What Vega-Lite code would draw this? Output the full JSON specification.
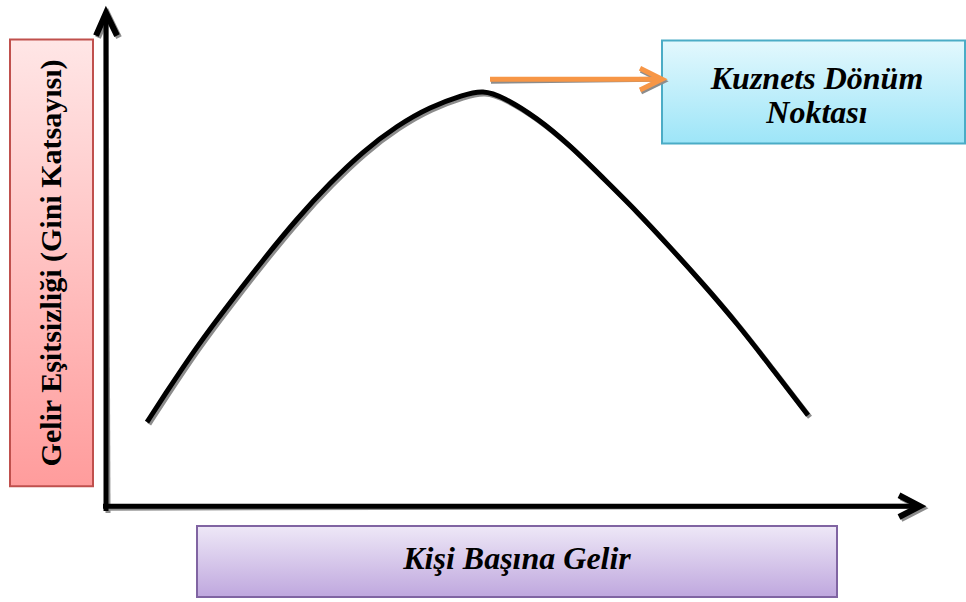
{
  "$schema": "https://vega.github.io/schema/vega-lite/v6.json",
  "width": 966,
  "height": 602,
  "autosize": {"type": "fit", "contains": "padding"},
  "padding": 0,
  "background": "white",
  "config": {"view": {"stroke": null}},
  "datasets": {
    "curve": [
      {"x": 147, "y": 182}, {"x": 163, "y": 207}, {"x": 197, "y": 259}, {"x": 230, "y": 303},
      {"x": 263, "y": 346}, {"x": 297, "y": 388}, {"x": 330, "y": 424}, {"x": 363, "y": 456},
      {"x": 397, "y": 482}, {"x": 430, "y": 501}, {"x": 463, "y": 513}, {"x": 483, "y": 518},
      {"x": 503, "y": 511}, {"x": 537, "y": 490}, {"x": 570, "y": 462}, {"x": 603, "y": 429},
      {"x": 637, "y": 395}, {"x": 670, "y": 359}, {"x": 703, "y": 322}, {"x": 737, "y": 282},
      {"x": 770, "y": 239}, {"x": 808, "y": 189}
    ],
    "boxes": [
      {"id": "red", "x": 10, "x2": 93, "y": 569, "y2": 117},
      {"id": "blue", "x": 662, "x2": 965, "y": 568, "y2": 464},
      {"id": "purple", "x": 197, "x2": 837, "y": 77, "y2": 5}
    ],
    "segs": [
      {"id": "yaxis", "x": 106, "x2": 106, "y": 92, "y2": 593},
      {"id": "xaxis", "x": 103, "x2": 916, "y": 97, "y2": 97}
    ],
    "orange": [
      {"x": 490, "x2": 658, "y": 529, "y2": 529}
    ],
    "heads": [
      {"id": "yhead", "ord": 1, "x": 96, "y": 573},
      {"id": "yhead", "ord": 2, "x": 106, "y": 596},
      {"id": "yhead", "ord": 3, "x": 117, "y": 573},
      {"id": "xhead", "ord": 1, "x": 899, "y": 108},
      {"id": "xhead", "ord": 2, "x": 920, "y": 97},
      {"id": "xhead", "ord": 3, "x": 899, "y": 86}
    ],
    "oheads": [
      {"id": "ohead", "ord": 1, "x": 640, "y": 540},
      {"id": "ohead", "ord": 2, "x": 662, "y": 529},
      {"id": "ohead", "ord": 3, "x": 640, "y": 518}
    ],
    "labels": [
      {"id": "blue", "text": "Kuznets Dönüm", "x": 817, "y": 519},
      {"id": "blue", "text": "Noktası", "x": 817, "y": 485},
      {"id": "purple", "text": "Kişi Başına Gelir", "x": 517, "y": 33}
    ],
    "vlabels": [
      {"text": "Gelir Eşitsizliği (Gini Katsayısı)", "x": 52, "y": 343}
    ]
  },
  "encoding": {
    "x": {"field": "x", "type": "quantitative", "scale": {"domain": [0, 966], "nice": false, "zero": false}, "axis": null},
    "y": {"field": "y", "type": "quantitative", "scale": {"domain": [0, 602], "nice": false, "zero": false}, "axis": null}
  },
  "layer": [
    {
      "data": {"name": "boxes"},
      "mark": {"type": "rect", "fill": "#8c8c8c", "opacity": 0.75, "xOffset": 2, "yOffset": 3},
      "encoding": {"x2": {"field": "x2"}, "y2": {"field": "y2"}}
    },
    {
      "data": {"name": "boxes"},
      "transform": [{"filter": "datum.id === 'red'"}],
      "mark": {"type": "rect", "stroke": "#c0504d", "strokeWidth": 2,
        "fill": {"gradient": "linear", "x1": 0, "y1": 0, "x2": 0, "y2": 1,
          "stops": [{"offset": 0, "color": "#ffe6e6"}, {"offset": 1, "color": "#ff9c9c"}]}},
      "encoding": {"x2": {"field": "x2"}, "y2": {"field": "y2"}}
    },
    {
      "data": {"name": "boxes"},
      "transform": [{"filter": "datum.id === 'blue'"}],
      "mark": {"type": "rect", "stroke": "#4bacc6", "strokeWidth": 2,
        "fill": {"gradient": "linear", "x1": 0, "y1": 0, "x2": 0, "y2": 1,
          "stops": [{"offset": 0, "color": "#e3f8fd"}, {"offset": 1, "color": "#9de5f8"}]}},
      "encoding": {"x2": {"field": "x2"}, "y2": {"field": "y2"}}
    },
    {
      "data": {"name": "boxes"},
      "transform": [{"filter": "datum.id === 'purple'"}],
      "mark": {"type": "rect", "stroke": "#8064a2", "strokeWidth": 2,
        "fill": {"gradient": "linear", "x1": 0, "y1": 0, "x2": 0, "y2": 1,
          "stops": [{"offset": 0, "color": "#eee8f7"}, {"offset": 1, "color": "#bfa7de"}]}},
      "encoding": {"x2": {"field": "x2"}, "y2": {"field": "y2"}}
    },
    {
      "data": {"name": "segs"},
      "mark": {"type": "rule", "stroke": "#8c8c8c", "strokeWidth": 5, "xOffset": 2, "yOffset": 2},
      "encoding": {"x2": {"field": "x2"}, "y2": {"field": "y2"}}
    },
    {
      "data": {"name": "heads"},
      "mark": {"type": "line", "stroke": "#8c8c8c", "strokeWidth": 6, "strokeJoin": "miter", "xOffset": 2, "yOffset": 2},
      "encoding": {"detail": {"field": "id"}, "order": {"field": "ord"}}
    },
    {
      "data": {"name": "curve"},
      "mark": {"type": "line", "stroke": "#8c8c8c", "strokeWidth": 5, "interpolate": "basis", "xOffset": 2, "yOffset": 2},
      "encoding": {}
    },
    {
      "data": {"name": "orange"},
      "mark": {"type": "rule", "stroke": "#8c8c8c", "strokeWidth": 5, "xOffset": 1, "yOffset": 2},
      "encoding": {"x2": {"field": "x2"}, "y2": {"field": "y2"}}
    },
    {
      "data": {"name": "oheads"},
      "mark": {"type": "line", "stroke": "#8c8c8c", "strokeWidth": 5, "strokeJoin": "miter", "xOffset": 1, "yOffset": 2},
      "encoding": {"order": {"field": "ord"}}
    },
    {
      "data": {"name": "segs"},
      "mark": {"type": "rule", "stroke": "black", "strokeWidth": 5},
      "encoding": {"x2": {"field": "x2"}, "y2": {"field": "y2"}}
    },
    {
      "data": {"name": "heads"},
      "mark": {"type": "line", "stroke": "black", "strokeWidth": 6, "strokeJoin": "miter"},
      "encoding": {"detail": {"field": "id"}, "order": {"field": "ord"}}
    },
    {
      "data": {"name": "curve"},
      "mark": {"type": "line", "stroke": "black", "strokeWidth": 5, "interpolate": "basis"},
      "encoding": {}
    },
    {
      "data": {"name": "orange"},
      "mark": {"type": "rule", "stroke": "#f79646", "strokeWidth": 5},
      "encoding": {"x2": {"field": "x2"}, "y2": {"field": "y2"}}
    },
    {
      "data": {"name": "oheads"},
      "mark": {"type": "line", "stroke": "#f79646", "strokeWidth": 5, "strokeJoin": "miter"},
      "encoding": {"order": {"field": "ord"}}
    },
    {
      "data": {"name": "labels"},
      "mark": {"type": "text", "font": "Liberation Serif", "fontWeight": "bold", "fontStyle": "italic", "fontSize": 32, "align": "center", "baseline": "alphabetic", "color": "black"},
      "encoding": {"text": {"field": "text"}}
    },
    {
      "data": {"name": "vlabels"},
      "mark": {"type": "text", "font": "Liberation Serif", "fontWeight": "bold", "fontSize": 30, "align": "center", "baseline": "middle", "angle": 270, "color": "black"},
      "encoding": {"text": {"field": "text"}}
    }
  ]
}
